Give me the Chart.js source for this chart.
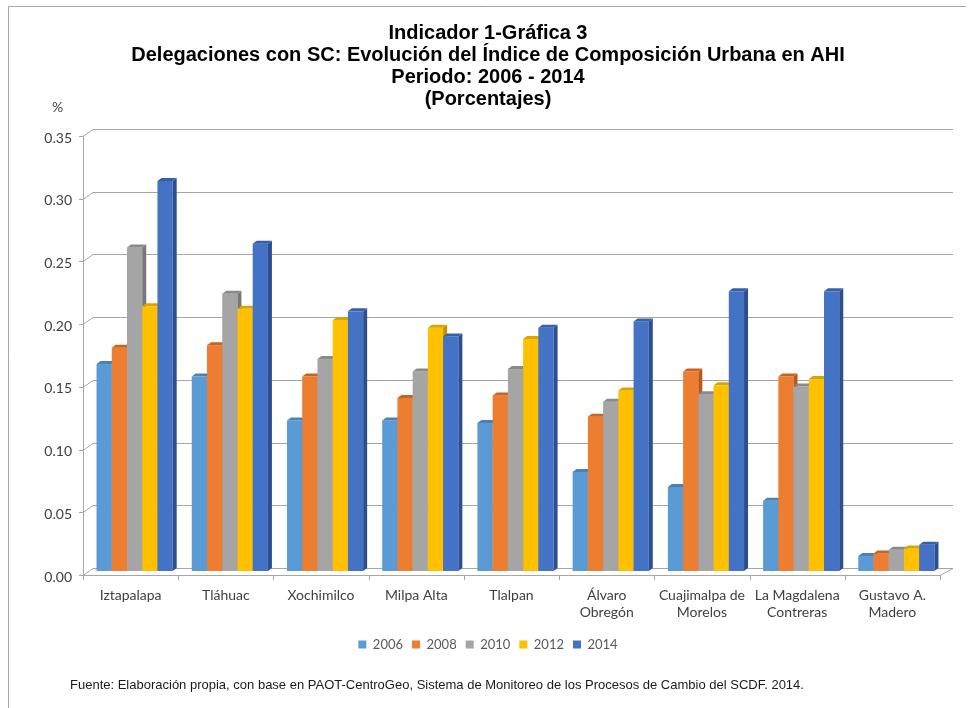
<!DOCTYPE html>
<html>
<head>
<meta charset="utf-8">
<script src="https://cdn.jsdelivr.net/npm/chart.js@4.4.1/dist/chart.umd.min.js"></script>
<style>
  html, body { margin: 0; padding: 0; background: #fff; }
  #wrap { width: 971px; height: 708px; position: relative; }
</style>
</head>
<body>
<div id="wrap"><canvas id="column-3d-chart"></canvas></div>
<script>
// Chart Data
// ------------------------------
var delegaciones = ["Iztapalapa", "Tláhuac", "Xochimilco", "Milpa Alta", "Tlalpan",
    ["Álvaro", "Obregón"], ["Cuajimalpa de", "Morelos"], ["La Magdalena", "Contreras"], ["Gustavo A.", "Madero"]];
var years = ["2006", "2008", "2010", "2012", "2014"];
var v2006 = [0.165, 0.155, 0.120, 0.120, 0.118, 0.079, 0.067, 0.056, 0.012];
var v2008 = [0.178, 0.180, 0.155, 0.138, 0.140, 0.123, 0.159, 0.155, 0.014];
var v2010 = [0.258, 0.221, 0.169, 0.159, 0.161, 0.135, 0.141, 0.147, 0.017];
var v2012 = [0.211, 0.209, 0.200, 0.194, 0.185, 0.144, 0.148, 0.153, 0.018];
var v2014 = [0.311, 0.261, 0.207, 0.187, 0.194, 0.199, 0.223, 0.223, 0.021];
var yTicks = [0, 0.05, 0.10, 0.15, 0.20, 0.25, 0.30, 0.35];

var fronts = ['#5b9bd5', '#ed7d31', '#a5a5a5', '#ffc000', '#4472c4'];
var sides  = ['#3f73a3', '#b35a1c', '#787878', '#bf9000', '#2d4f8f'];
var tops   = ['#4a82b8', '#c8641f', '#8a8a8a', '#d9a400', '#3660ab'];
var series = [v2006, v2008, v2010, v2012, v2014];

var gridColor = '#a6a6a6';
var wallDX = 10, wallDY = 7;   // back wall, relative to the front plane
var colDX = 4, colDY = 4;      // columns stand halfway into the floor
var sideDX = 4, sideDY = 3;    // thickness of each column

// walls, floor and 3D columns
var walls3d = {
    id: 'walls3d',
    beforeDatasetsDraw: function (chart) {
        var ctx = chart.ctx, y = chart.scales.y;
        var left = chart.chartArea.left, right = chart.chartArea.right;
        ctx.save();
        ctx.strokeStyle = gridColor;
        ctx.lineWidth = 1;
        yTicks.forEach(function (v) {
            var py = Math.round(y.getPixelForValue(v)) + 0.5;
            ctx.beginPath();
            ctx.moveTo(left - 4, py);
            ctx.lineTo(left, py);
            ctx.lineTo(left + wallDX, py - wallDY);
            ctx.lineTo(right + wallDX + 3, py - wallDY);
            ctx.stroke();
        });
        var top = Math.round(y.getPixelForValue(0.35));
        var bot = Math.round(y.getPixelForValue(0));
        // front vertical axis
        ctx.beginPath();
        ctx.moveTo(left + 0.5, top);
        ctx.lineTo(left + 0.5, bot);
        ctx.stroke();
        // floor front edge and category ticks
        ctx.beginPath();
        ctx.moveTo(left, bot + 0.5);
        ctx.lineTo(right, bot + 0.5);
        ctx.lineTo(right + wallDX + 3, bot - wallDY + 0.5);
        ctx.stroke();
        for (var i = 0; i <= delegaciones.length; i++) {
            var px = Math.round(left + (right - left) * i / delegaciones.length) + 0.5;
            ctx.beginPath();
            ctx.moveTo(px, bot);
            ctx.lineTo(px, bot + 5);
            ctx.stroke();
        }
        ctx.restore();
    },
    // the flat bars are replaced by the 3D ones below
    beforeDatasetDraw: function () {
        return false;
    },
    // left to right, so each front face hides the side of the column before it
    afterDatasetsDraw: function (chart) {
        var ctx = chart.ctx;
        ctx.save();
        for (var j = 0; j < delegaciones.length; j++) {
            for (var i = 0; i < years.length; i++) {
                var p = chart.getDatasetMeta(i).data[j].getProps(['x', 'y', 'base', 'width'], true);
                var x0 = p.x - p.width / 2 + colDX, x1 = p.x + p.width / 2 + colDX;
                var yt = p.y - colDY, yb = p.base - colDY;
                ctx.fillStyle = fronts[i];
                ctx.fillRect(x0, yt, x1 - x0, yb - yt);
                ctx.fillStyle = sides[i];
                ctx.beginPath();
                ctx.moveTo(x1, yt);
                ctx.lineTo(x1 + sideDX, yt - sideDY);
                ctx.lineTo(x1 + sideDX, yb - sideDY);
                ctx.lineTo(x1, yb);
                ctx.closePath();
                ctx.fill();
                ctx.fillStyle = tops[i];
                ctx.beginPath();
                ctx.moveTo(x0, yt);
                ctx.lineTo(x0 + sideDX, yt - sideDY);
                ctx.lineTo(x1 + sideDX, yt - sideDY);
                ctx.lineTo(x1, yt);
                ctx.closePath();
                ctx.fill();
            }
        }
        ctx.restore();
    },
    afterDraw: function (chart) {
        var ctx = chart.ctx;
        ctx.save();
        // frame
        ctx.strokeStyle = '#a6a6a6';
        ctx.beginPath();
        ctx.moveTo(8.5, 708);
        ctx.lineTo(8.5, 6.5);
        ctx.lineTo(966, 6.5);
        ctx.stroke();
        // unit label
        ctx.fillStyle = '#404040';
        ctx.font = '14px Lato';
        ctx.textAlign = 'left';
        ctx.textBaseline = 'middle';
        ctx.fillText('%', 52, 107);
        // source note
        ctx.fillStyle = '#1a1a1a';
        ctx.font = '13px "Liberation Sans"';
        ctx.fillText('Fuente: Elaboración propia, con base en PAOT-CentroGeo, Sistema de Monitoreo de los Procesos de Cambio del SCDF. 2014.', 70, 685);
        ctx.restore();
    }
};

var chartData = {
    labels: delegaciones,
    datasets: years.map(function (yr, i) {
        return {
            label: yr,
            data: series[i],
            backgroundColor: fronts[i],
            borderWidth: 0,
            categoryPercentage: 0.8,
            barPercentage: 1.0
        };
    })
};

var chartOptions = {
    responsive: true,
    maintainAspectRatio: false,
    animation: false,
    layout: { padding: { left: 36, right: 31, top: 0, bottom: 47 } },
    plugins: {
        title: {
            display: true,
            text: ['Indicador 1-Gráfica 3',
                   'Delegaciones con SC: Evolución del Índice de Composición Urbana en AHI',
                   'Periodo: 2006 - 2014',
                   '(Porcentajes)'],
            color: '#000',
            font: { family: '"Liberation Sans", Arial', size: 20, weight: 'bold', lineHeight: 1.1 },
            padding: { top: 22, bottom: 26 }
        },
        legend: {
            position: 'bottom',
            labels: {
                boxWidth: 8,
                boxHeight: 8,
                padding: 9,
                color: '#595959',
                font: { family: 'Lato', size: 13 }
            }
        },
        tooltip: { enabled: false }
    },
    scales: {
        x: {
            grid: { display: false, drawTicks: false },
            border: { display: false },
            ticks: {
                color: '#404040',
                padding: 12,
                maxRotation: 0,
                autoSkip: false,
                font: { family: 'Lato', size: 14 }
            },
            afterFit: function (scale) { scale.height = 54; }
        },
        y: {
            min: 0,
            max: 0.35,
            grid: { display: false, drawTicks: false },
            border: { display: false },
            ticks: {
                stepSize: 0.05,
                padding: 11,
                labelOffset: 2,
                color: '#404040',
                font: { family: 'Lato', size: 14 },
                callback: function (v) { return v.toFixed(2); }
            },
            afterFit: function (scale) { scale.width = 47; }
        }
    }
};

var ctx = document.getElementById('column-3d-chart');
var column3dChart = new Chart(ctx, {
    type: 'bar',
    data: chartData,
    options: chartOptions,
    plugins: [walls3d]
});
</script>
</body>
</html>
